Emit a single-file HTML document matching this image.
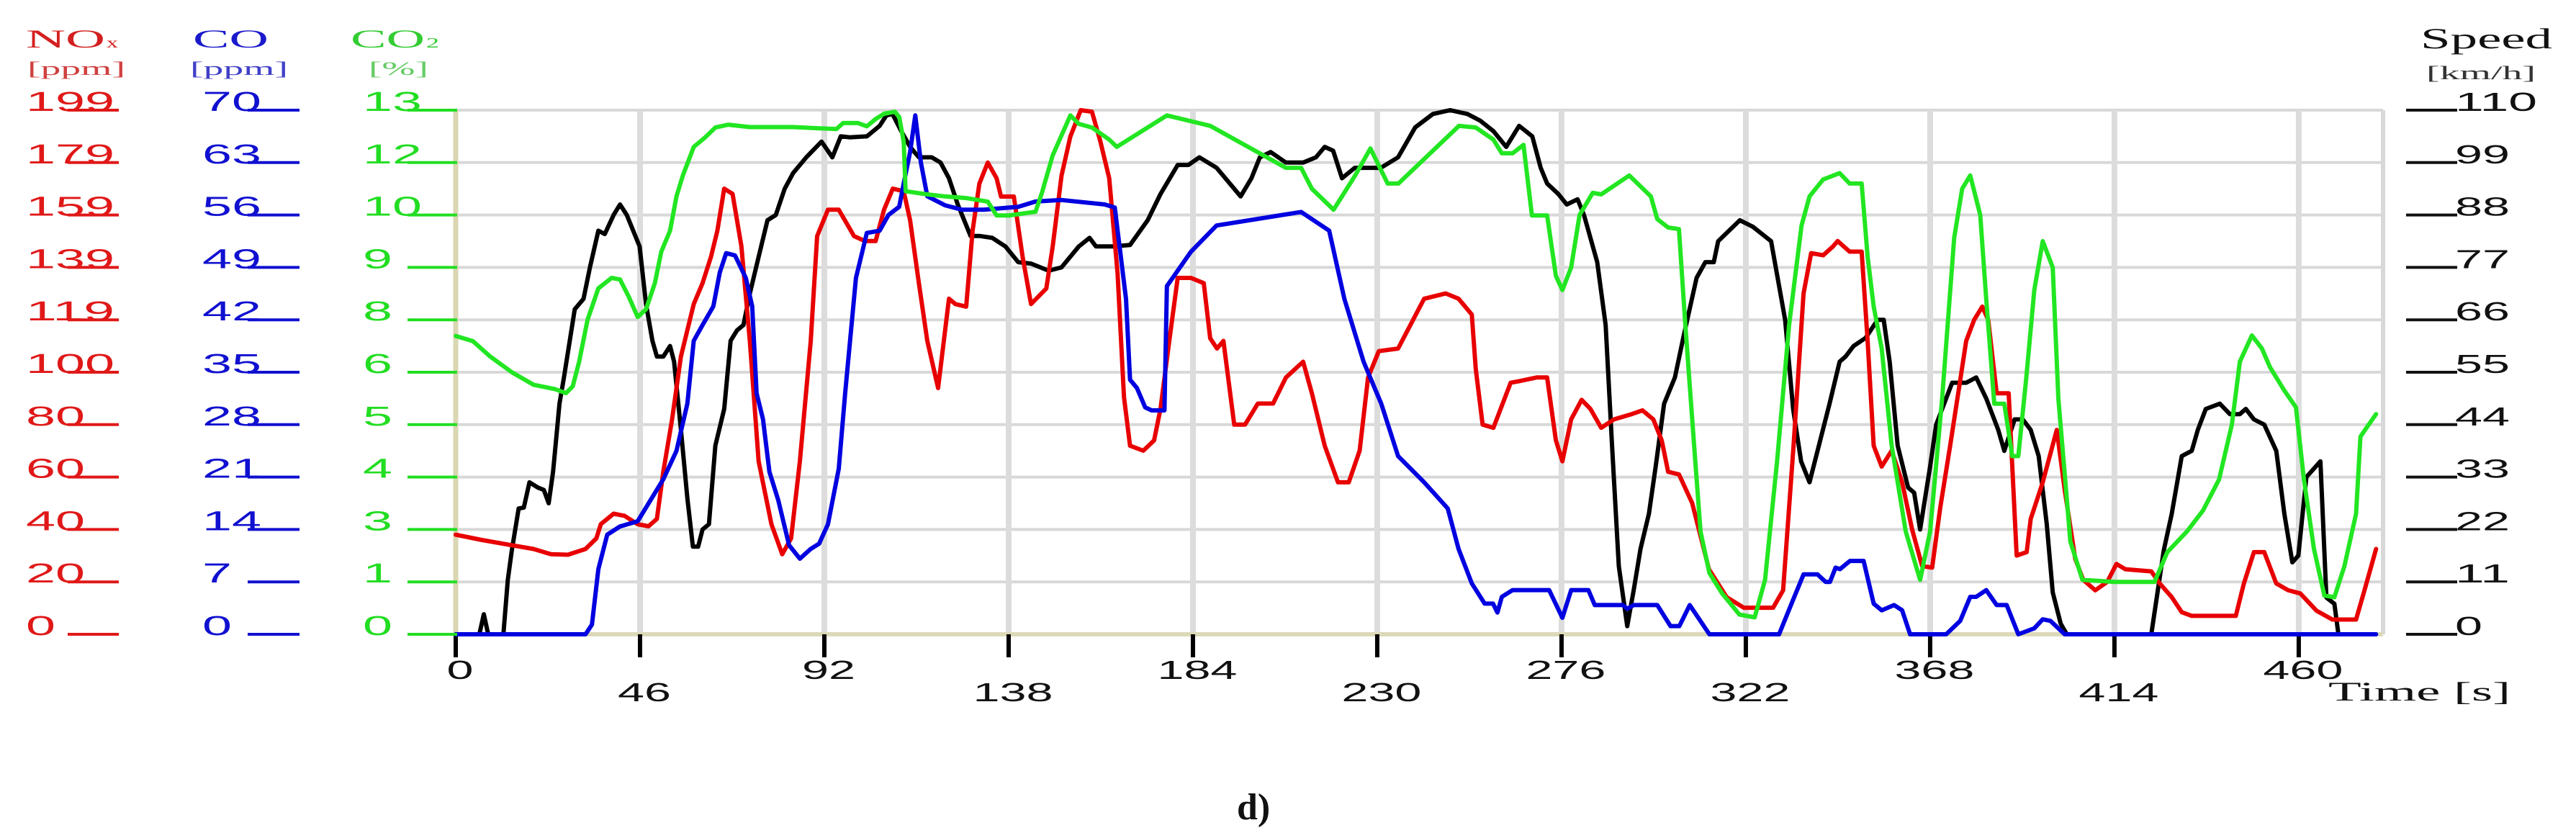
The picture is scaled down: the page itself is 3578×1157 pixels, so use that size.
<!DOCTYPE html>
<html><head><meta charset="utf-8"><title>Emissions and speed vs time</title>
<style>html,body{margin:0;padding:0;background:#fff;}svg{display:block;}</style></head>
<body>
<svg id="chart" width="3578" height="1157" viewBox="0 0 3578 1157" xmlns="http://www.w3.org/2000/svg">
  <rect x="0" y="0" width="3578" height="1157" fill="#ffffff"/>
  <g id="grid"></g>
  <g id="axes"></g>
  <g id="series"></g>
  <g id="labels"></g>

  <g font-family="Liberation Serif, serif" fill="#d42020">
    <text x="36" y="66" font-size="36" textLength="110" lengthAdjust="spacingAndGlyphs">NO</text>
    <text x="148" y="66" font-size="20" textLength="16" lengthAdjust="spacingAndGlyphs">x</text>
    <text x="38" y="104" font-size="26" textLength="136" lengthAdjust="spacingAndGlyphs" fill="#d04040">[ppm]</text>
  </g>
  <g font-family="Liberation Serif, serif" fill="#1a1acc">
    <text x="268" y="66" font-size="36" textLength="105" lengthAdjust="spacingAndGlyphs">CO</text>
    <text x="264" y="104" font-size="26" textLength="136" lengthAdjust="spacingAndGlyphs" fill="#4040c8">[ppm]</text>
  </g>
  <g font-family="Liberation Serif, serif" fill="#33cc33">
    <text x="487" y="66" font-size="36" textLength="103" lengthAdjust="spacingAndGlyphs">CO</text>
    <text x="592" y="66" font-size="20" textLength="18" lengthAdjust="spacingAndGlyphs">2</text>
    <text x="512" y="104" font-size="26" textLength="83" lengthAdjust="spacingAndGlyphs" fill="#66cc66">[%]</text>
  </g>
  <g font-family="Liberation Serif, serif" fill="#111">
    <text x="3362" y="67" font-size="40" textLength="183" lengthAdjust="spacingAndGlyphs">Speed</text>
    <text x="3370" y="110" font-size="26" textLength="152" lengthAdjust="spacingAndGlyphs" fill="#333">[km/h]</text>
  </g>
  <text x="3234" y="973" font-family="Liberation Serif, serif" font-size="37" textLength="253" lengthAdjust="spacingAndGlyphs" fill="#111">Time [s]</text>
  <text x="1718" y="1138" font-family="Liberation Serif, serif" font-weight="bold" font-size="52" fill="#111">d)</text>
</svg>
<script>
// ---- chart data (time in s, values in native units) ----
const noxTicks = ["0","20","40","60","80","100","119","139","159","179","199"];
const coTicks = ["0","7","14","21","28","35","42","49","56","63","70"];
const co2Ticks = ["0","1","3","4","5","6","8","9","10","12","13"];
const speedTicks = ["0","11","22","33","44","55","66","77","88","99","110"];
const timeTicks = [0,46,92,138,184,230,276,322,368,414,460];

const speedData = [[0,0],[5.9,0],[7,4.2],[8.1,0],[11.9,0],[13,11.4],[14,17.6],[15.7,26.4],[17,26.6],[18.4,31.9],[20.5,30.8],[22,30.3],[23.2,27.5],[24.3,34.1],[25.9,48.4],[27,53.9],[29.7,68.2],[31.9,70.4],[33.5,77],[35.6,84.7],[37.2,84],[39.4,88],[41,90.2],[42.7,88],[45.9,81.4],[47.5,69.3],[49.1,61.6],[50.2,58.3],[51.8,58.3],[53.5,60.5],[54.5,57.2],[56.2,42.9],[57.8,28.6],[59.2,18.4],[60.5,18.4],[61.6,22],[63.2,23.1],[64.8,39.6],[67,47.3],[68.6,61.6],[70.2,63.8],[71.8,64.9],[73.4,71.5],[75.6,79.2],[77.8,86.9],[79.9,88],[82.1,93.5],[84.2,96.8],[87.5,100.1],[91.3,103.4],[94,100.1],[96.1,104.5],[98.3,104.3],[102.6,104.5],[105.8,106.7],[107.5,108.9],[109,109.2],[111.2,105.6],[113.4,102.3],[115.6,100.1],[118.8,100.1],[121,99],[123.1,95.7],[125.3,90.2],[128.5,83.6],[130.7,83.6],[133.9,83.2],[137.2,81.4],[140.4,78.1],[143.6,77.8],[148,76.3],[151.2,77],[155.5,81.4],[158.2,83.2],[159.8,81.4],[164.2,81.4],[168.3,81.7],[172.7,86.9],[175.9,92.4],[180.2,98.5],[182.9,98.5],[185.6,100.1],[189.9,97.9],[193.2,94.6],[195.9,91.9],[198.6,95.7],[200.7,100.1],[203.4,101.2],[207.2,99],[211.5,99],[214.7,100.1],[216.9,102.3],[219,101.5],[221.2,95.7],[224.4,97.9],[230.9,97.9],[235.2,100.1],[239.5,106.4],[243.9,109.2],[248.2,110],[252.5,109.2],[255.7,107.8],[259,105.6],[262.2,102.3],[265.4,106.7],[268.7,104.5],[270.8,97.9],[272.4,94.6],[275.2,92.4],[277.3,90.2],[280,91.3],[281.6,88],[284.9,78.1],[287,64.9],[288.6,39.6],[290.3,14.3],[292.4,1.7],[294,9.2],[295.7,17.9],[297.8,25.3],[299.5,35.2],[301.6,48.4],[304.3,53.9],[306.5,62.7],[309.7,74.8],[311.9,78.1],[314,78.1],[315.1,82.5],[317.8,84.7],[320.5,86.9],[323.8,85.5],[328.3,82.5],[331.8,66],[333.8,47.3],[335.8,36.3],[337.9,31.9],[339.9,38.5],[342.9,48.4],[345.4,57.2],[346.9,58.3],[348.9,60.5],[351.9,62.2],[354.9,66],[356.4,66],[357.9,57.2],[359.9,39.6],[362.5,30.8],[364,29.7],[365.5,22],[368,35.2],[369.5,44],[371.5,48.4],[373.5,52.8],[377,52.8],[379.5,53.9],[382,49.5],[385,42.9],[386.5,38.5],[389.1,45.1],[391.1,45.1],[393.1,42.9],[395.1,37.4],[397.1,23.1],[398.6,8.8],[400.6,2.2],[402.1,0],[423.2,0],[426.3,17.6],[428.3,25.3],[430.8,37.4],[433.3,38.5],[434.8,42.9],[436.8,47.3],[440.3,48.4],[442.8,46.2],[445.3,46.2],[446.8,47.3],[448.8,45.1],[451.4,44],[454.4,38.5],[456.4,25.3],[458.4,15.1],[459.9,16.5],[461.9,33],[465.4,36.3],[466.9,7.7],[468.9,6.4],[469.9,0]];

const noxData = [[0,37.8],[6.5,35.8],[14,33.8],[19.4,32.4],[23.8,30.4],[28,30.2],[32.4,32.4],[35.1,36.4],[36.2,41.8],[39.4,45.8],[42.1,45],[45.4,41.8],[48.1,41],[50.2,43.8],[51.8,61.7],[54,81.6],[56.2,105.5],[59.4,125.4],[61.6,133.3],[63.7,143.3],[65.3,153.2],[67,169.2],[69.1,167.2],[71.3,147.3],[73.4,111.4],[75.6,65.7],[78.8,41.8],[81.5,30.4],[83.7,36.4],[85.9,65.7],[88.6,111.4],[90.2,151.2],[92.9,161.2],[95.6,161.2],[99.4,151.2],[102.1,149.3],[104.8,149.3],[106.9,161.2],[109.1,169.2],[111.8,168.2],[113.4,157.2],[115.6,133.3],[117.7,111.4],[120.4,93.5],[123.1,127.4],[124.7,125.4],[127.4,124.4],[129,153.2],[130.7,171.1],[132.8,179.1],[135,173.1],[136.1,166.2],[139.3,166.2],[141.5,143.3],[143.6,125.4],[147.4,131.3],[149,147.3],[151.2,174.1],[153.4,189],[156,199],[158.8,198.4],[160.9,187.1],[163.1,173.1],[165.2,137],[166.8,90],[168.3,71.6],[171.6,69.7],[174.3,73.6],[175.9,85.6],[178.1,111.4],[180.2,135.3],[183.5,135.3],[186.7,133.3],[188.3,112.4],[190,108.5],[191.6,111.4],[194.3,79.6],[197,79.6],[200.2,87.6],[204,87.6],[207.2,97.5],[211.5,103.5],[213.7,91.5],[216.9,71.6],[220.2,57.7],[222.9,57.7],[225.6,69.7],[227.7,97.5],[230.4,107.5],[235.2,108.5],[241.7,127.4],[247.1,129.4],[250.3,127.4],[253.6,121.4],[254.6,100.7],[256.3,79.6],[259,78.4],[263.3,95.5],[265.4,96.1],[269.8,97.5],[272.4,97.5],[274.6,73.6],[276.2,65.7],[278.4,81.6],[281,89],[283.2,85.6],[285.9,78.4],[289.1,81.6],[293.5,83.6],[296.2,85],[298.9,81.6],[301,73.6],[302.6,61.7],[305.3,60.7],[308.6,49.8],[312.8,24.7],[317.2,14.1],[321.5,10.1],[325.3,10.1],[328.8,10.1],[331.3,16.7],[333.9,71.6],[336.4,129.4],[338.3,144.7],[341.3,143.9],[343.8,147.3],[344.9,149.3],[347.9,145.3],[350.9,145.3],[352.4,111.4],[353.9,71.6],[355.9,63.7],[358.4,69.7],[361,57.7],[363.5,39.8],[366,25.9],[368.5,25.3],[370.5,47.8],[373,71.6],[375,91.5],[377,111.4],[379,119.4],[381,124.4],[382.5,119.4],[384.6,91.5],[387.6,91.5],[389.6,29.9],[392.1,31.2],[393.1,43.8],[396.1,57.7],[399.6,77.6],[401.6,54.7],[404.2,28.7],[406.2,20.7],[409.2,16.7],[412.2,19.9],[414.5,26.7],[416.7,24.7],[423.2,23.9],[425.3,19.3],[428.3,14.1],[430.8,8.4],[433.3,7],[444.3,7],[446.3,19.3],[448.8,31.2],[451.4,31.2],[454.4,19.3],[457.4,16.7],[460.4,15.5],[464.4,9],[468.4,5.6],[474.3,5.6],[476.4,16.7],[479.3,32.4]];

const coData = [[0,0],[32.4,0],[34,1.3],[35.6,8.7],[37.8,13.3],[41,14.4],[45.4,15.1],[48.6,17.9],[51.8,20.7],[55.1,24.5],[57.8,30.8],[59.4,39.2],[61.6,41.3],[64.3,43.8],[65.9,48.3],[67.5,50.9],[69.7,50.6],[72.4,47.6],[74,43.8],[75.1,32.2],[76.7,28.7],[78.3,21.7],[80.5,17.9],[83.2,11.9],[85.9,10.1],[88.6,11.4],[90.7,12.1],[92.9,14.7],[95.6,22.1],[97.2,32.2],[99.9,47.6],[102.6,53.6],[105.8,53.9],[108,56],[110.7,57.1],[111.8,60.2],[113.4,64.4],[114.7,69.3],[116.1,63],[117.7,58.5],[122.1,57.3],[126.4,56.7],[131.8,56.7],[140.4,57.1],[144.7,57.8],[151.2,58],[162,57.4],[164.5,57],[167.3,44.8],[168.3,34],[170,32.9],[172.1,30.3],[173.7,29.9],[176.9,29.9],[177.5,46.5],[183.5,51.1],[189.9,54.6],[211,56.4],[218,53.9],[221.8,44.8],[226.6,36.4],[231,30.8],[235.2,23.8],[241.7,20.3],[247.6,16.8],[250.3,11.4],[253.6,6.8],[256.8,4.1],[258.9,4.1],[260,2.9],[261.1,5],[263.8,5.9],[272.9,5.9],[276.2,2.2],[278.4,5.9],[282.7,5.9],[284.3,3.9],[291.3,3.9],[292.4,3.4],[294,3.9],[299.9,3.9],[303.2,1.1],[305.4,1.1],[308,3.9],[312.9,0],[330.3,0],[333.4,4.1],[336.4,8],[339.9,8],[341.9,7],[343,7],[344.4,8.9],[345.5,8.7],[348,9.8],[351.4,9.8],[353.9,4.1],[355.9,3.2],[359,3.9],[361,3.2],[363,0],[372,0],[375.5,1.8],[378,5],[379.5,5],[382,5.9],[384.6,3.9],[387.1,3.9],[390,0],[394,0.8],[396.1,2],[398,1.8],[401.6,0],[479.3,0]];

const co2Data = [[0,7.4],[4.3,7.27],[8.6,6.89],[14,6.5],[19.4,6.19],[24.8,6.08],[27.5,5.98],[29.2,6.15],[30.8,6.76],[32.9,7.8],[35.6,8.58],[38.9,8.84],[41,8.8],[43.2,8.37],[45.4,7.87],[47.5,8.06],[49.7,8.71],[51.3,9.49],[53.5,10.01],[55.1,10.86],[56.7,11.38],[59.4,12.09],[62.1,12.31],[64.8,12.57],[68,12.64],[73.4,12.58],[84.2,12.58],[95,12.53],[96.7,12.68],[100.4,12.68],[102.6,12.6],[104.8,12.78],[106.9,12.91],[109.6,12.96],[110.7,12.83],[111.8,12.22],[112.3,10.99],[117.7,10.91],[122.1,10.86],[127.4,10.82],[132.8,10.73],[135,10.39],[138.2,10.39],[144.7,10.48],[146.3,10.95],[149,11.88],[153.4,12.87],[155.5,12.66],[158.8,12.57],[163.1,12.27],[165,12.09],[177.5,12.87],[188.3,12.61],[207.2,11.57],[211,11.57],[213.7,11.05],[219.1,10.53],[224.5,11.38],[228.3,12.05],[232.6,11.18],[235.3,11.18],[250.4,12.61],[254.6,12.57],[259,12.27],[261.1,11.93],[263.8,11.93],[266.5,12.14],[268.6,10.39],[272.4,10.39],[274.6,8.89],[276.2,8.54],[278.4,9.1],[280.5,10.4],[283.8,10.95],[285.9,10.91],[292.9,11.38],[298.3,10.86],[299.9,10.3],[302.6,10.09],[305.3,10.05],[306.9,7.67],[309.1,4.68],[310.7,2.55],[312.9,1.52],[316.1,1.01],[320.4,0.49],[324.2,0.42],[326.8,1.35],[329.8,4.29],[332.8,7.67],[335.9,10.14],[337.9,10.86],[341.3,11.28],[345.4,11.44],[347.9,11.18],[350.9,11.18],[352.4,9.36],[353.9,8.13],[355.9,7.09],[358.4,4.68],[361.9,2.55],[365.5,1.35],[368,2.55],[371,5.85],[374,9.83],[376,11.05],[378,11.38],[380.5,10.4],[382,8.32],[384,5.72],[386.5,5.72],[388.5,4.42],[390,4.42],[392,6.37],[394,8.54],[396.1,9.75],[398.6,9.1],[400,5.85],[403,2.3],[406,1.35],[414,1.3],[424,1.3],[427.2,2.04],[432.1,2.55],[436.1,3.07],[440.1,3.84],[443.3,5.2],[445.3,6.76],[448.3,7.41],[450.8,7.09],[452.8,6.63],[456.3,6.06],[459.3,5.63],[461.3,3.84],[463.8,2.12],[466.4,0.96],[468.9,0.92],[471.4,1.69],[474.3,2.99],[475.4,4.9],[476.9,5.12],[479.3,5.46]];

// ---- axis functions ----
const PL = 633, PR = 3310, PT = 153, PB = 881;
const PX_PER_S = 5.565;
function xT(t){ return PL + t * PX_PER_S; }
function yFrac(f){ return PB - f * (PB - PT); }
function ySpeed(v){ return yFrac(v / 110); }
function yNox(v){ return yFrac(v / 199); }
function yCo(v){ return yFrac(v / 70); }
function yCo2(v){ return yFrac(v / 13); }

const NS = "http://www.w3.org/2000/svg";
function mk(tag, attrs, parent){
  const e = document.createElementNS(NS, tag);
  for (const k in attrs) e.setAttribute(k, attrs[k]);
  parent.appendChild(e);
  return e;
}
const grid = document.getElementById('grid');
const axes = document.getElementById('axes');
const series = document.getElementById('series');
const labels = document.getElementById('labels');

for (let i = 0; i < noxTicks.length; i++){
  const y = yFrac(i / (noxTicks.length - 1));
  const l = mk('line', {x1: PL, x2: PR, y1: y, y2: y, stroke: '#d8d8d8', 'stroke-width': 4}, grid);
  
  
}
for (let i = 1; i < timeTicks.length; i++){
  const x = xT(timeTicks[i]);
  const l = mk('line', {x1: x, x2: x, y1: PT, y2: PB, stroke: '#dcdcdc', 'stroke-width': 8}, grid);
  
  
}
const rb = mk('line', {x1: PR, x2: PR, y1: PT, y2: PB, stroke: '#d8d8d8', 'stroke-width': 6}, grid);


const la = mk('line', {x1: PL, x2: PL, y1: PT, y2: PB, stroke: '#d9d6b2', 'stroke-width': 7}, axes);


const ba = mk('line', {x1: PL, x2: PR, y1: PB, y2: PB, stroke: '#dcd9b8', 'stroke-width': 6}, axes);



for (let i = 0; i < timeTicks.length; i++){
  const x = xT(timeTicks[i]);
  const tk = mk('line', {x1: x, x2: x, y1: PB, y2: PB + 32, stroke: '#000', 'stroke-width': 6}, axes);
  
  
  const s = String(timeTicks[i]);
  const tx = mk('text', {x: x + 6, y: (i % 2 === 0) ? 943 : 974, 'text-anchor': 'middle',
    'font-family': 'Liberation Sans, sans-serif', 'font-size': 36, fill: '#111',
    textLength: s.length * 37, lengthAdjust: 'spacingAndGlyphs'}, labels);
  tx.textContent = s;
  
  
}

function leftAxis(ticks, textX, lineX1, lineX2, color, name){
  for (let i = 0; i < ticks.length; i++){
    const y = yFrac(i / (ticks.length - 1));
    const ln = mk('line', {x1: lineX1, x2: lineX2, y1: y, y2: y, stroke: color, 'stroke-width': 4}, labels);
    
    
    const s = ticks[i];
    const tx = mk('text', {x: textX, y: y + 1, 'font-family': 'Liberation Sans, sans-serif',
      'font-size': 38, fill: color, textLength: s.length * 41, lengthAdjust: 'spacingAndGlyphs'}, labels);
    tx.textContent = s;
    
    
  }
}
leftAxis(noxTicks, 36, 94, 165, '#e01818', 'nox-axis');
leftAxis(coTicks, 281, 344, 416, '#1010d0', 'co-axis');
leftAxis(co2Ticks, 504, 566, 635, '#22dd22', 'co2-axis');

for (let i = 0; i < speedTicks.length; i++){
  const y = yFrac(i / (speedTicks.length - 1));
  const ln = mk('line', {x1: 3342, x2: 3413, y1: y, y2: y, stroke: '#111', 'stroke-width': 4}, labels);
  
  
  const s = speedTicks[i];
  const tx = mk('text', {x: 3410, y: y + 1, 'font-family': 'Liberation Sans, sans-serif',
    'font-size': 36, fill: '#111', textLength: s.length * 38, lengthAdjust: 'spacingAndGlyphs'}, labels);
  tx.textContent = s;
  
  
}

function drawLine(data, yf, color, name){
  const d = data.map((p, i) => (i ? 'L' : 'M') + xT(p[0]).toFixed(1) + ' ' + yf(p[1]).toFixed(1)).join(' ');
  const path = mk('path', {d: d, fill: 'none', stroke: color, 'stroke-width': 6, 'stroke-linejoin': 'round', 'stroke-linecap': 'round'}, series);
  
  
}
drawLine(speedData, ySpeed, '#000000', 'speed-line');
drawLine(noxData, yNox, '#e80000', 'nox-line');
drawLine(coData, yCo, '#0000e0', 'co-line');
drawLine(co2Data, yCo2, '#22e622', 'co2-line');
</script>
</body></html>
